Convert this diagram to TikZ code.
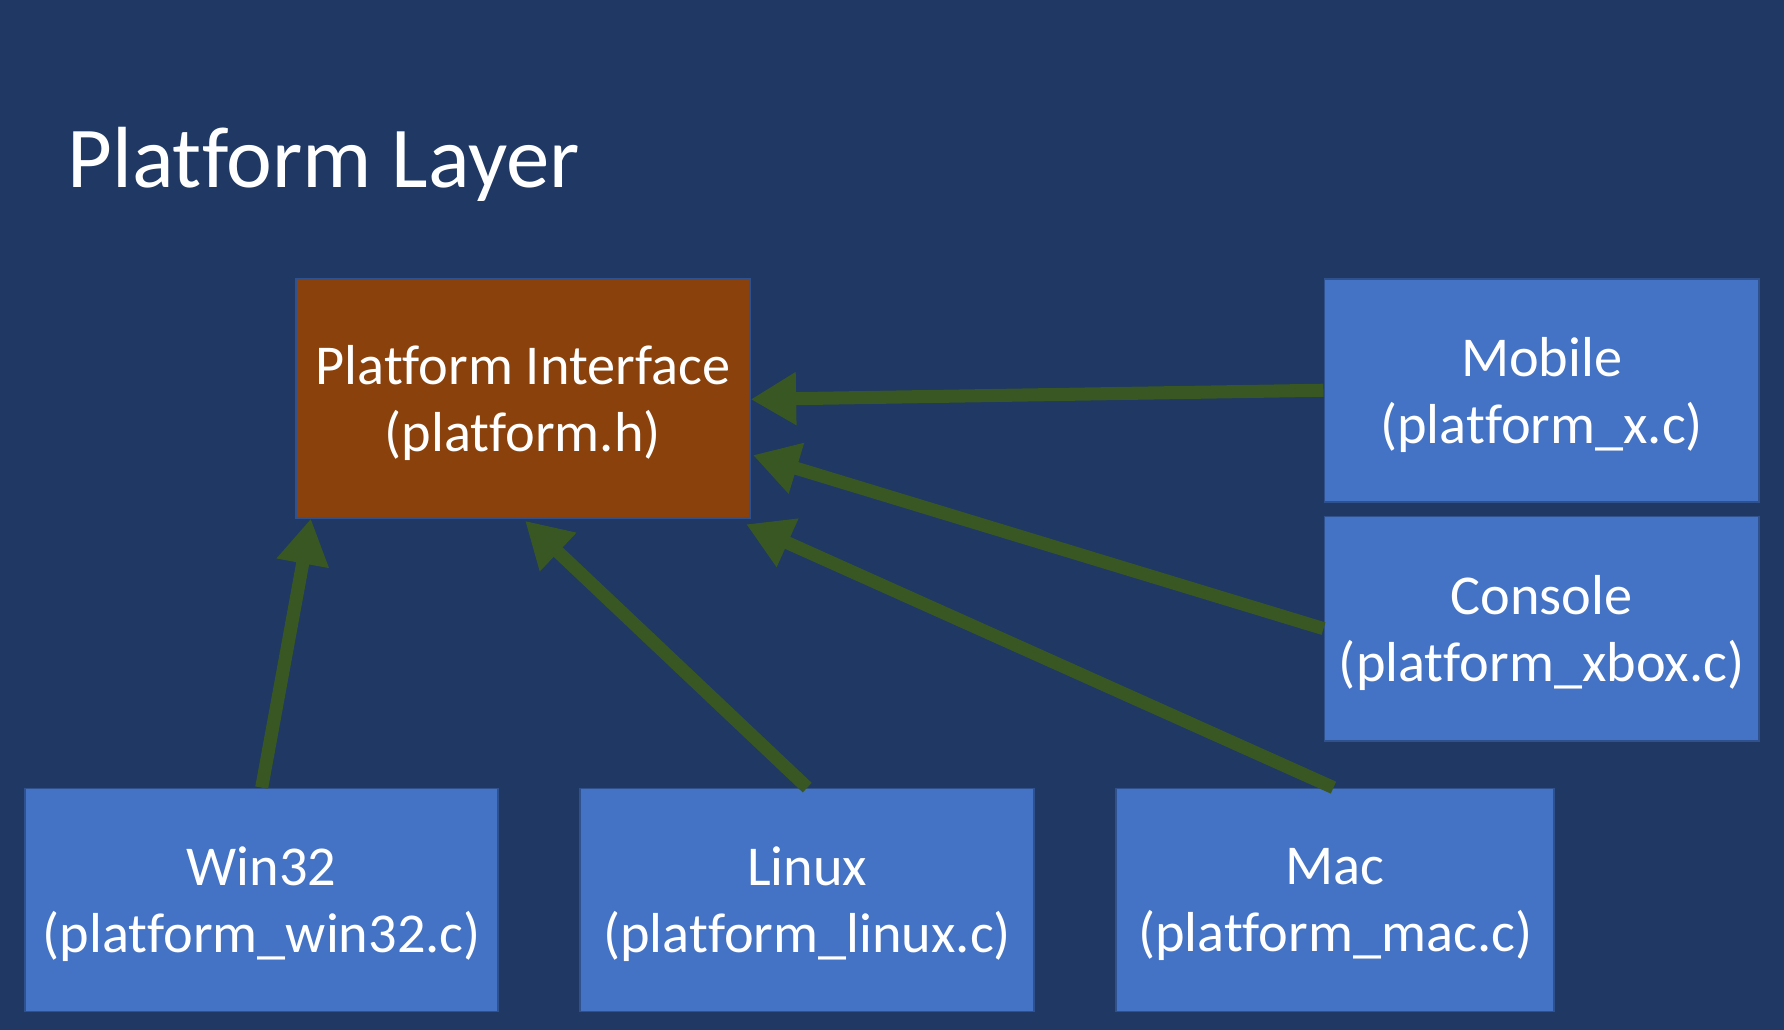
\documentclass[tikz,border=0pt]{standalone}
\usepackage{fontspec}
\setmainfont[Ligatures=NoCommon]{Carlito}
\usetikzlibrary{arrows.meta}
\definecolor{bg}{HTML}{1F3864}
\definecolor{boxblue}{HTML}{4472C4}
\definecolor{boxedge}{HTML}{2F528F}
\definecolor{orangebox}{HTML}{8A410B}
\definecolor{arrowgreen}{HTML}{385723}
\begin{document}
\begin{tikzpicture}[x=1pt,y=-1pt,
  box/.style={draw=boxedge,line width=1.5pt,fill=boxblue,inner sep=0pt},
  boxtext/.style={text=white,align=center,inner sep=0pt,yshift=-4pt,
    font=\fontsize{49.5}{59}\selectfont},
  link/.style={draw=arrowgreen,line width=11.5pt,
    -{Triangle[width=44pt,length=40pt]}}]
\fill[bg] (0,0) rectangle (1568,905);
\useasboundingbox (0,0) rectangle (1568,905);
\node[anchor=base west,text=white,inner sep=0pt,font=\fontsize{76.3}{90}\selectfont] (title) at (59,165) {Platform Layer};
\node[box,fill=orangebox,minimum width=399pt,minimum height=210pt,
  label={[boxtext]center:Platform Interface\\(platform.h)}] (pi) at (459.5,350) {};
\node[box,minimum width=382pt,minimum height=196pt,
  label={[boxtext]center:Mobile\\(platform\_x.c)}] (mobile) at (1355,343) {};
\node[box,minimum width=382pt,minimum height=197pt,
  label={[boxtext]center:Console\\(platform\_xbox.c)}] (console) at (1355,552.5) {};
\node[box,minimum width=416pt,minimum height=196pt,
  label={[boxtext]center:Win32\\(platform\_win32.c)}] (win) at (230,791) {};
\node[box,minimum width=399pt,minimum height=196pt,
  label={[boxtext]center:Linux\\(platform\_linux.c)}] (linux) at (709.5,791) {};
\node[box,minimum width=385pt,minimum height=196pt,
  label={[boxtext]center:Mac\\(platform\_mac.c)}] (mac) at (1173.5,791) {};
\draw[link] (mobile.west) -- ([yshift=-1pt]pi.east);
\draw[link] (console.west) -- ([xshift=2pt,yshift=-50pt]pi.east);
\draw[link] ([xshift=-1.5pt]mac.north) -- ([xshift=-4pt,yshift=-5pt]pi.south east);
\draw[link] (linux.north) -- ([xshift=2pt,yshift=-2pt]pi.south);
\draw[link] (win.north) -- ([xshift=14pt]pi.south west);
\end{tikzpicture}
\end{document}
